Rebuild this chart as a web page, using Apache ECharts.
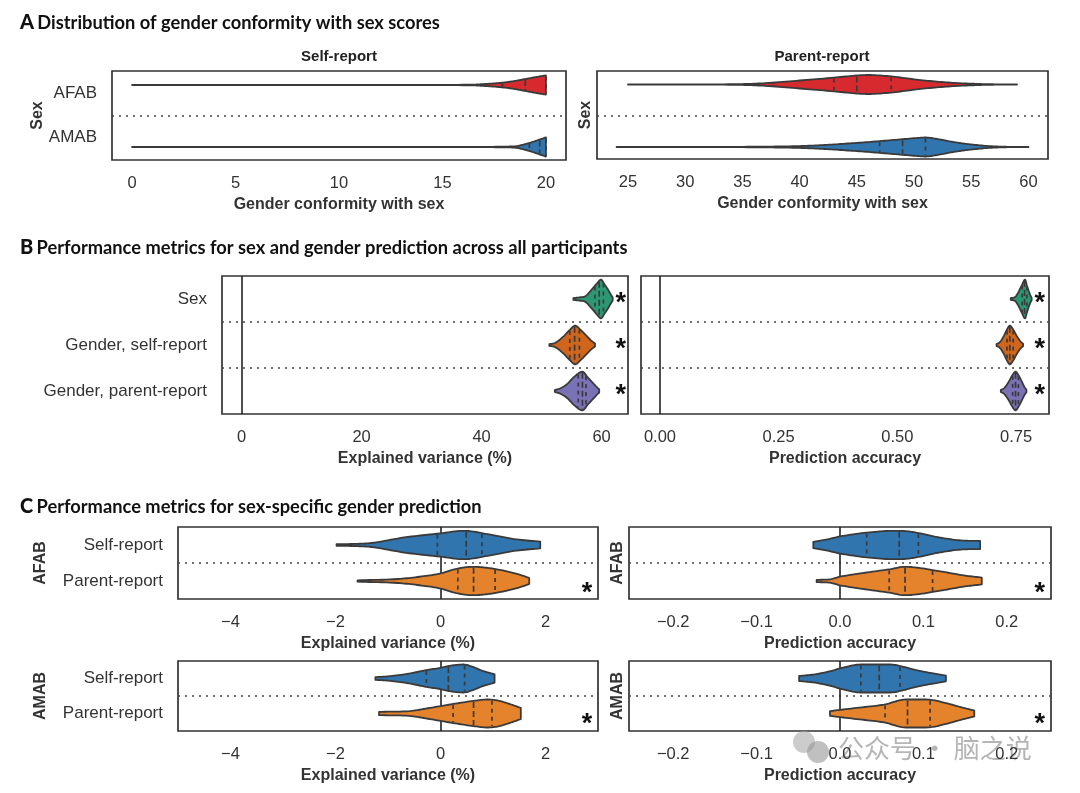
<!DOCTYPE html>
<html><head><meta charset="utf-8">
<script src="https://cdn.jsdelivr.net/npm/echarts@6/dist/echarts.min.js"></script>
<style>html,body{margin:0;padding:0;background:#fff}#c{width:1080px;height:793px}</style>
</head><body><div id="c"></div>
<script>
// ---------------- DATA ----------------
// Panel A: gender conformity with sex scores (violin profiles: [value, relative density])
const sexLabels = ['AFAB', 'AMAB'];
const gcSelfTicks = [0, 5, 10, 15, 20];
const gcParentTicks = [25, 30, 35, 40, 45, 50, 55, 60];
const gcSelfAFAB = [[0,0],[14,0.01],[16.5,0.04],[17,0.1],[17.5,0.17],[18,0.27],[18.5,0.42],[19,0.62],[19.5,0.82],[20,1]];
const gcSelfAFABq = [17.9, 19.0, 20];
const gcSelfAMAB = [[0,0],[16,0.01],[18,0.04],[18.6,0.1],[19,0.3],[19.3,0.48],[19.6,0.7],[20,1]];
const gcSelfAMABq = [19.2, 19.7, 20];
const gcParAFAB = [[25,0],[31,0.01],[35,0.05],[37,0.14],[40,0.42],[43,0.72],[45,0.95],[46,1],[48,0.85],[50,0.55],[52,0.3],[54,0.14],[56,0.05],[57.5,0.015],[59,0]];
const gcParAFABq = [43, 45, 48];
const gcParAMAB = [[24,0],[32,0.01],[37,0.04],[40,0.1],[42,0.2],[44,0.35],[46,0.52],[48,0.72],[50,0.92],[51,1],[52,0.85],[53,0.62],[54,0.42],[55,0.27],[56.5,0.1],[58,0.025],[60,0]];
const gcParAMABq = [47, 49, 51];

// Panel B: sex and gender prediction, all participants
const predLabels = ['Sex', 'Gender, self-report', 'Gender, parent-report'];
const evTicks = [0, 20, 40, 60];
const accTicks = [0, 0.25, 0.5, 0.75];
const evSex = [[55.3,0.05],[56.5,0.09],[57.3,0.15],[58.3,0.47],[59.2,0.8],[59.9,1],[60.5,0.75],[61.1,0.47],[61.5,0.25],[61.85,0.08]];
const evSexQ = [58.9, 59.6, 60.3];
const evSelf = [[51.3,0.05],[52.2,0.1],[53.6,0.43],[54.6,0.75],[55.6,1],[56.5,0.78],[57.5,0.47],[58.3,0.22],[58.9,0.08]];
const evSelfQ = [54.7, 55.5, 56.3];
const evParent = [[52.2,0.05],[53.2,0.15],[54.2,0.35],[55.5,0.75],[56.8,1],[57.7,0.7],[58.6,0.4],[59.2,0.2],[59.6,0.08]];
const evParentQ = [56.1, 56.8, 57.4];
const accSex = [[0.739,0.05],[0.748,0.1],[0.755,0.35],[0.762,0.7],[0.769,1],[0.773,0.7],[0.777,0.4],[0.781,0.15],[0.783,0.06]];
const accSexQ = [0.763, 0.768, 0.773];
const accSelf = [[0.709,0.05],[0.716,0.15],[0.724,0.45],[0.731,0.8],[0.737,1],[0.744,0.8],[0.752,0.45],[0.759,0.2],[0.765,0.06]];
const accSelfQ = [0.731, 0.737, 0.744];
const accParent = [[0.718,0.05],[0.725,0.15],[0.734,0.45],[0.742,0.8],[0.749,1],[0.756,0.78],[0.763,0.45],[0.768,0.2],[0.772,0.06]];
const accParentQ = [0.743, 0.749, 0.755];
const sigB = [true, true, true];

// Panel C: sex-specific gender prediction
const reportLabels = ['Self-report', 'Parent-report'];
const evTicksC = [-4, -2, 0, 2];
const accTicksC = [-0.2, -0.1, 0, 0.1, 0.2];
const afabEvSelf = [[-1.98,0.06],[-1.6,0.08],[-1.32,0.14],[-0.69,0.53],[0,0.82],[0.45,1],[0.9,0.76],[1.4,0.42],[1.9,0.23]];
const afabEvSelfQ = [-0.06, 0.49, 0.79];
const afabEvParent = [[-1.58,0.05],[-0.81,0.14],[-0.4,0.3],[0,0.53],[0.3,0.85],[0.62,1],[0.9,0.92],[1.15,0.77],[1.53,0.42],[1.69,0.21]];
const afabEvParentQ = [0.33, 0.63, 1.04];
const afabAccSelf = [[-0.032,0.22],[-0.015,0.4],[0,0.6],[0.032,0.87],[0.065,1],[0.08,0.97],[0.094,0.84],[0.12,0.52],[0.145,0.32],[0.168,0.28]];
const afabAccSelfQ = [0.032, 0.071, 0.094];
const afabAccParent = [[-0.028,0.08],[-0.012,0.12],[0,0.3],[0.03,0.58],[0.059,0.82],[0.078,1],[0.095,0.92],[0.111,0.77],[0.13,0.58],[0.15,0.38],[0.17,0.24]];
const afabAccParentQ = [0.059, 0.078, 0.111];
const amabEvSelf = [[-1.24,0.1],[-1.0,0.15],[-0.6,0.35],[-0.27,0.6],[0,0.76],[0.2,0.92],[0.44,1],[0.6,0.85],[0.8,0.55],[1.03,0.3]];
const amabEvSelfQ = [-0.27, 0.15, 0.46];
const amabEvParent = [[-1.17,0.12],[-0.6,0.17],[-0.2,0.4],[0.24,0.68],[0.63,0.9],[0.9,1],[1.1,0.92],[1.3,0.7],[1.53,0.4]];
const amabEvParentQ = [0.24, 0.63, 0.98];
const amabAccSelf = [[-0.049,0.18],[-0.03,0.3],[-0.011,0.53],[0,0.72],[0.025,1],[0.061,1],[0.075,0.85],[0.089,0.63],[0.11,0.38],[0.127,0.2]];
const amabAccSelfQ = [0.025, 0.047, 0.072];
const amabAccParent = [[-0.012,0.17],[0.02,0.4],[0.053,0.64],[0.079,1],[0.103,1],[0.13,0.7],[0.145,0.45],[0.161,0.21]];
const amabAccParentQ = [0.054, 0.081, 0.108];
const sigC = [false, true];

// ---------------- STYLE ----------------
const FONT = '"Liberation Sans", Arial, sans-serif';
const TFONT = 'Lato, "Open Sans", sans-serif';
const RED = '#d62a2e', BLUE = '#3175ae', ORANGE = '#e5822c';
const GREEN = '#2b9873', DORANGE = '#d0651c', PURPLE = '#7a72b6';
const EDGE = '#3a3a3a';

const fmtInt = v => (v < 0 ? '\u2212' + Math.abs(v) : String(v));
const fmt2 = v => v.toFixed(2);
const fmt1 = v => (v < 0 ? '\u2212' : '') + Math.abs(v).toFixed(1);

// monotone cubic (Fritsch-Carlson) drawing helper for the outline of the read profile
function monoSlopes(p) {
  const n = p.length, d = [], m = new Array(n);
  for (let i = 0; i < n - 1; i++) d.push((p[i+1][1] - p[i][1]) / (p[i+1][0] - p[i][0]));
  m[0] = d[0]; m[n-1] = d[n-2];
  for (let i = 1; i < n - 1; i++) m[i] = (d[i-1] * d[i] <= 0) ? 0 : (d[i-1] + d[i]) / 2;
  for (let i = 0; i < n - 1; i++) {
    if (d[i] === 0) { m[i] = 0; m[i+1] = 0; continue; }
    const a = m[i] / d[i], b = m[i+1] / d[i], s = a * a + b * b;
    if (s > 9) { const t = 3 / Math.sqrt(s); m[i] = t * a * d[i]; m[i+1] = t * b * d[i]; }
  }
  return m;
}
function evalMono(p, m, x) {
  if (x <= p[0][0]) return p[0][1];
  if (x >= p[p.length-1][0]) return p[p.length-1][1];
  let i = 0; while (x > p[i+1][0]) i++;
  const h = p[i+1][0] - p[i][0], t = (x - p[i][0]) / h;
  const t2 = t * t, t3 = t2 * t;
  return (2*t3 - 3*t2 + 1) * p[i][1] + (t3 - 2*t2 + t) * h * m[i] + (-2*t3 + 3*t2) * p[i+1][1] + (t3 - t2) * h * m[i+1];
}
function outline(p) {
  const m = monoSlopes(p), pts = [];
  for (let i = 0; i < p.length - 1; i++) {
    for (let k = 0; k < 10; k++) {
      const x = p[i][0] + (p[i+1][0] - p[i][0]) * k / 10;
      pts.push([x, Math.max(0, evalMono(p, m, x))]);
    }
  }
  pts.push(p[p.length-1]);
  return { pts, m };
}

const panels = [
  { box:[112,71,454,89], x:[-0.97,20.97], ticks:gcSelfTicks, fmt:fmtInt, xName:'Gender conformity with sex',
    cats:sexLabels, yName:'Sex', yNameGap:66, y:[-0.226,1.21], maxHalf:0.155, zero:false, seps:[0.5],
    violins:[{row:0,profile:gcSelfAFAB,q:gcSelfAFABq,color:RED},{row:1,profile:gcSelfAMAB,q:gcSelfAMABq,color:BLUE}] },
  { box:[597,71,451,88], x:[22.29,61.71], ticks:gcParentTicks, fmt:fmtInt, xName:'Gender conformity with sex',
    cats:['',''], yName:'Sex', yNameGap:3, y:[-0.216,1.192], maxHalf:0.152, zero:false, seps:[0.5],
    violins:[{row:0,profile:gcParAFAB,q:gcParAFABq,color:RED},{row:1,profile:gcParAMAB,q:gcParAMABq,color:BLUE}] },
  { box:[222,276,406,138], x:[-3.27,64.4], ticks:evTicks, fmt:fmtInt, xName:'Explained variance (%)',
    cats:predLabels, yName:'', y:[-0.5,2.5], maxHalf:0.42, zero:true, seps:[0.5,1.5], starX:63.2, starDy:5,
    violins:[{row:0,profile:evSex,q:evSexQ,color:GREEN,sig:sigB[0]},{row:1,profile:evSelf,q:evSelfQ,color:DORANGE,sig:sigB[1]},{row:2,profile:evParent,q:evParentQ,color:PURPLE,sig:sigB[2]}] },
  { box:[641,276,408,138], x:[-0.04,0.8195], ticks:accTicks, fmt:fmt2, xName:'Prediction accuracy',
    cats:['','',''], yName:'', y:[-0.5,2.5], maxHalf:0.42, zero:true, seps:[0.5,1.5], starX:0.80, starDy:5,
    violins:[{row:0,profile:accSex,q:accSexQ,color:GREEN,sig:sigB[0]},{row:1,profile:accSelf,q:accSelfQ,color:DORANGE,sig:sigB[1]},{row:2,profile:accParent,q:accParentQ,color:PURPLE,sig:sigB[2]}] },
  { box:[178,527,420,72], x:[-5,3], ticks:evTicksC, fmt:fmtInt, xName:'Explained variance (%)',
    cats:reportLabels, yName:'AFAB', yNameGap:129, y:[-0.5,1.5], maxHalf:0.395, zero:true, seps:[0.5], starX:2.79, starDy:13,
    violins:[{row:0,profile:afabEvSelf,q:afabEvSelfQ,color:BLUE,sig:sigC[0]},{row:1,profile:afabEvParent,q:afabEvParentQ,color:ORANGE,sig:sigC[1]}] },
  { box:[629,527,422,72], x:[-0.253,0.253], ticks:accTicksC, fmt:fmt1, xName:'Prediction accuracy',
    cats:['',''], yName:'AFAB', yNameGap:3, y:[-0.5,1.5], maxHalf:0.395, zero:true, seps:[0.5], starX:0.2395, starDy:13,
    violins:[{row:0,profile:afabAccSelf,q:afabAccSelfQ,color:BLUE,sig:sigC[0]},{row:1,profile:afabAccParent,q:afabAccParentQ,color:ORANGE,sig:sigC[1]}] },
  { box:[178,661,420,70], x:[-5,3], ticks:evTicksC, fmt:fmtInt, xName:'Explained variance (%)',
    cats:reportLabels, yName:'AMAB', yNameGap:129, y:[-0.5,1.5], maxHalf:0.4, zero:true, seps:[0.5], starX:2.79, starDy:11,
    violins:[{row:0,profile:amabEvSelf,q:amabEvSelfQ,color:BLUE,sig:sigC[0]},{row:1,profile:amabEvParent,q:amabEvParentQ,color:ORANGE,sig:sigC[1]}] },
  { box:[629,661,422,70], x:[-0.253,0.253], ticks:accTicksC, fmt:fmt1, xName:'Prediction accuracy',
    cats:['',''], yName:'AMAB', yNameGap:3, y:[-0.5,1.5], maxHalf:0.4, zero:true, seps:[0.5], starX:0.2395, starDy:11,
    violins:[{row:0,profile:amabAccSelf,q:amabAccSelfQ,color:BLUE,sig:sigC[0]},{row:1,profile:amabAccParent,q:amabAccParentQ,color:ORANGE,sig:sigC[1]}] }
];

function makeRender(cfg) {
  return function (params, api) {
    const v = cfg.violins[params.dataIndex];
    if (!v) return null;
    const cy = api.coord([cfg.x[0], v.row])[1];
    const unit = Math.abs(api.size([0, cfg.maxHalf])[1]);
    const o = outline(v.profile);
    const top = o.pts.map(p => [api.coord([p[0], v.row])[0], cy - p[1] * unit]);
    const bot = o.pts.slice().reverse().map(p => [api.coord([p[0], v.row])[0], cy + p[1] * unit]);
    const children = [{ type: 'polygon', shape: { points: top.concat(bot) },
      style: { fill: v.color, stroke: EDGE, lineWidth: 1.8, lineJoin: 'round' } }];
    v.q.forEach((q, k) => {
      const d = Math.max(0, evalMono(v.profile, o.m, q)) * unit;
      const x = api.coord([q, v.row])[0];
      children.push({ type: 'line', shape: { x1: x, y1: cy - d + 1, x2: x, y2: cy + d - 1 },
        style: { stroke: EDGE, lineWidth: 1.7, lineDash: k === 1 ? [6, 3] : [4, 4] } });
    });
    if (v.sig) {
      children.push({ type: 'text', style: { text: '*', x: api.coord([cfg.starX, v.row])[0], y: cy + cfg.starDy,
        fill: '#111', font: 'bold 27px ' + FONT, align: 'center', verticalAlign: 'middle' } });
    }
    return { type: 'group', children };
  };
}

const grid = [], xAxis = [], yAxis = [], series = [];
panels.forEach((p, i) => {
  grid.push({ left: p.box[0], top: p.box[1], width: p.box[2], height: p.box[3], show: true,
    borderColor: '#333', borderWidth: 1.7, backgroundColor: '#fff' });
  xAxis.push({ gridIndex: i, type: 'value', min: p.x[0], max: p.x[1],
    axisLine: { show: false }, axisTick: { show: false }, splitLine: { show: false },
    axisLabel: { customValues: p.ticks, formatter: p.fmt, color: '#333', fontSize: 16.5, fontFamily: FONT, margin: 15 },
    name: p.xName, nameLocation: 'middle', nameGap: 37,
    nameTextStyle: { fontWeight: 'bold', fontSize: 16, color: '#333', fontFamily: FONT } });
  yAxis.push({ gridIndex: i, type: 'category', data: p.cats, inverse: true,
    axisLine: { show: false }, axisTick: { show: false }, splitLine: { show: false },
    axisLabel: { color: '#333', fontSize: 17, fontFamily: FONT, margin: 15 },
    name: p.yName, nameLocation: 'middle', nameRotate: 90, nameGap: p.yNameGap || 0, nameMoveOverlap: false,
    nameTextStyle: { fontWeight: 'bold', fontSize: 16, color: '#333', fontFamily: FONT } });
  yAxis.push({ gridIndex: i, type: 'value', inverse: true, min: p.y[0], max: p.y[1], show: false });
  const ml = p.seps.map(s => ({ yAxis: s, lineStyle: { type: [2, 5], color: '#444', width: 1.5 } }));
  if (p.zero) ml.push({ xAxis: 0, lineStyle: { type: 'solid', color: '#222', width: 1.6 } });
  series.push({ type: 'custom', xAxisIndex: i, yAxisIndex: 2 * i + 1, renderItem: makeRender(p),
    data: p.violins.map(v => [v.q[1], v.row]), silent: true, z: 3,
    markLine: { silent: true, symbol: ['none', 'none'], label: { show: false }, data: ml, z: 2 } });
});

const titleRich = { l: { fontFamily: TFONT, fontWeight: 900, fontSize: 20, fill: '#111' }, t: { fontFamily: TFONT, fontWeight: 700, fontSize: 18.3, fill: '#111' } };
const graphic = [
  { type: 'text', left: 20, top: 13, style: { text: '{l|A} {t|Distribution of gender conformity with sex scores}', rich: titleRich } },
  { type: 'text', left: 20, top: 238, style: { text: '{l|B} {t|Performance metrics for sex and gender prediction across all participants}', rich: titleRich } },
  { type: 'text', left: 20, top: 497, style: { text: '{l|C} {t|Performance metrics for sex-specific gender prediction}', rich: titleRich } },
  { type: 'text', x: 339, y: 57, style: { text: 'Self-report', font: 'bold 15px ' + FONT, fill: '#222', align: 'center', verticalAlign: 'middle' } },
  { type: 'text', x: 822, y: 57, style: { text: 'Parent-report', font: 'bold 15px ' + FONT, fill: '#222', align: 'center', verticalAlign: 'middle' } },
  { type: 'circle', shape: { cx: 804, cy: 742, r: 11 }, style: { fill: 'rgba(170,170,170,0.6)' } },
  { type: 'circle', shape: { cx: 818, cy: 752, r: 11 }, style: { fill: 'rgba(150,150,150,0.6)' } },
  { type: 'text', x: 838, y: 748, style: { text: '公众号 · 脑之说', font: '26px "Noto Sans CJK SC", sans-serif', fill: 'rgba(150,150,150,0.7)', verticalAlign: 'middle' } }
];

const chart = echarts.init(document.getElementById('c'), null, { renderer: 'canvas' });
chart.setOption({ animation: false, backgroundColor: '#fff', grid, xAxis, yAxis, series, graphic });
</script></body></html>
